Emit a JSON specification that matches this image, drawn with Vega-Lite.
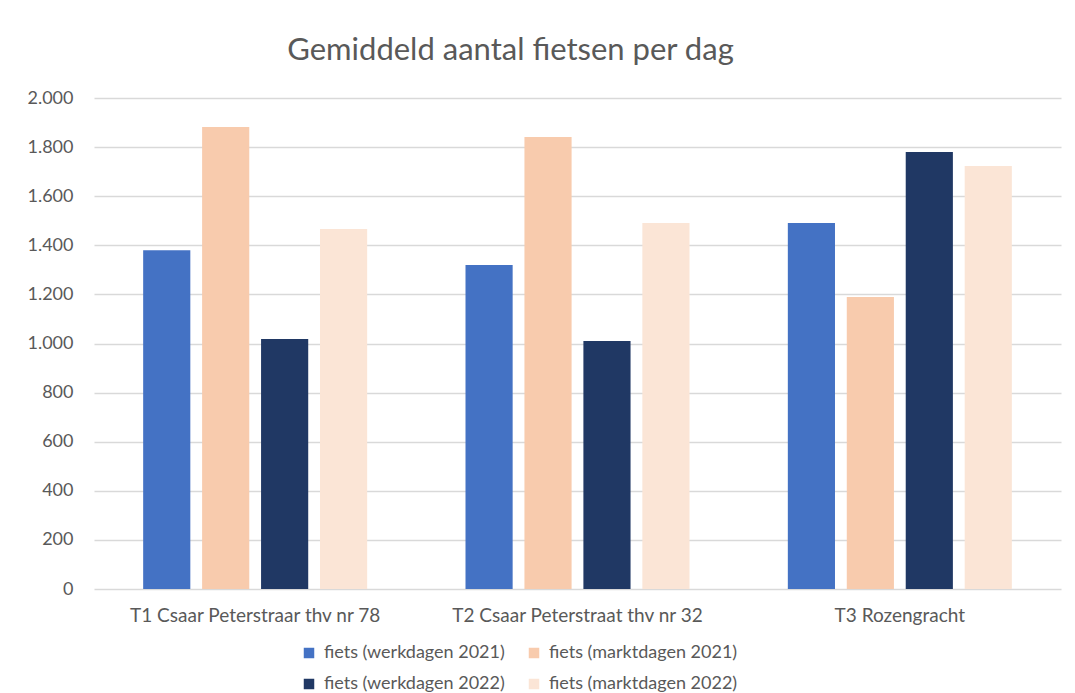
{
  "$schema": "https://vega.github.io/schema/vega-lite/v6.json",
  "width": 967,
  "height": 491,
  "autosize": "none",
  "padding": {"left": 94, "top": 98, "right": 14, "bottom": 104},
  "background": "white",
  "title": {
    "text": "Gemiddeld aantal fietsen per dag",
    "fontSize": 31,
    "font": "Lato",
    "fontWeight": "normal",
    "color": "#595959",
    "offset": 22,
    "dx": -67
  },
  "data": {
    "values": [
      {"locatie": "T1 Csaar Peterstraar thv nr 78", "reeks": "fiets (werkdagen 2021)", "aantal": 1380},
      {"locatie": "T1 Csaar Peterstraar thv nr 78", "reeks": "fiets (marktdagen 2021)", "aantal": 1882},
      {"locatie": "T1 Csaar Peterstraar thv nr 78", "reeks": "fiets (werkdagen 2022)", "aantal": 1018},
      {"locatie": "T1 Csaar Peterstraar thv nr 78", "reeks": "fiets (marktdagen 2022)", "aantal": 1466},
      {"locatie": "T2 Csaar Peterstraat thv nr 32", "reeks": "fiets (werkdagen 2021)", "aantal": 1320},
      {"locatie": "T2 Csaar Peterstraat thv nr 32", "reeks": "fiets (marktdagen 2021)", "aantal": 1841},
      {"locatie": "T2 Csaar Peterstraat thv nr 32", "reeks": "fiets (werkdagen 2022)", "aantal": 1010},
      {"locatie": "T2 Csaar Peterstraat thv nr 32", "reeks": "fiets (marktdagen 2022)", "aantal": 1491},
      {"locatie": "T3 Rozengracht", "reeks": "fiets (werkdagen 2021)", "aantal": 1491},
      {"locatie": "T3 Rozengracht", "reeks": "fiets (marktdagen 2021)", "aantal": 1189},
      {"locatie": "T3 Rozengracht", "reeks": "fiets (werkdagen 2022)", "aantal": 1780},
      {"locatie": "T3 Rozengracht", "reeks": "fiets (marktdagen 2022)", "aantal": 1723}
    ]
  },
  "mark": {"type": "bar"},
  "encoding": {
    "x": {
      "field": "locatie",
      "type": "nominal",
      "sort": null,
      "title": null,
      "scale": {"paddingInner": 0, "paddingOuter": 0},
      "axis": {
        "labelAngle": 0,
        "domain": false,
        "ticks": false,
        "labelFont": "Lato",
        "labelFontSize": 19,
        "labelColor": "#595959",
        "labelPadding": 17,
        "labelLimit": 0
      }
    },
    "xOffset": {
      "field": "reeks",
      "type": "nominal",
      "sort": ["fiets (werkdagen 2021)", "fiets (marktdagen 2021)", "fiets (werkdagen 2022)", "fiets (marktdagen 2022)"],
      "scale": {"paddingInner": 0.2, "paddingOuter": 0.834}
    },
    "y": {
      "field": "aantal",
      "type": "quantitative",
      "title": null,
      "scale": {"domain": [0, 2000]},
      "axis": {
        "values": [0, 200, 400, 600, 800, 1000, 1200, 1400, 1600, 1800, 2000],
        "labelExpr": "replace(format(datum.value, ','), ',', '.')",
        "domain": false,
        "ticks": false,
        "grid": true,
        "gridColor": "#d9d9d9",
        "gridWidth": 1.3,
        "labelFont": "Lato",
        "labelFontSize": 18,
        "labelColor": "#595959",
        "labelPadding": 21
      }
    },
    "color": {
      "field": "reeks",
      "type": "nominal",
      "sort": ["fiets (werkdagen 2021)", "fiets (marktdagen 2021)", "fiets (werkdagen 2022)", "fiets (marktdagen 2022)"],
      "scale": {
        "domain": ["fiets (werkdagen 2021)", "fiets (marktdagen 2021)", "fiets (werkdagen 2022)", "fiets (marktdagen 2022)"],
        "range": ["#4472C4", "#F8CBAD", "#203864", "#FBE5D6"]
      },
      "legend": {
        "title": null,
        "orient": "none",
        "legendX": 206,
        "legendY": 546,
        "direction": "horizontal",
        "columns": 2,
        "columnPadding": 20,
        "rowPadding": 13,
        "symbolType": "square",
        "symbolSize": 110,
        "symbolStrokeWidth": 0,
        "symbolOpacity": 1,
        "labelFont": "Lato",
        "labelFontSize": 18,
        "labelColor": "#595959",
        "labelOffset": 6,
        "labelLimit": 0
      }
    }
  },
  "config": {
    "view": {"stroke": null}
  }
}
